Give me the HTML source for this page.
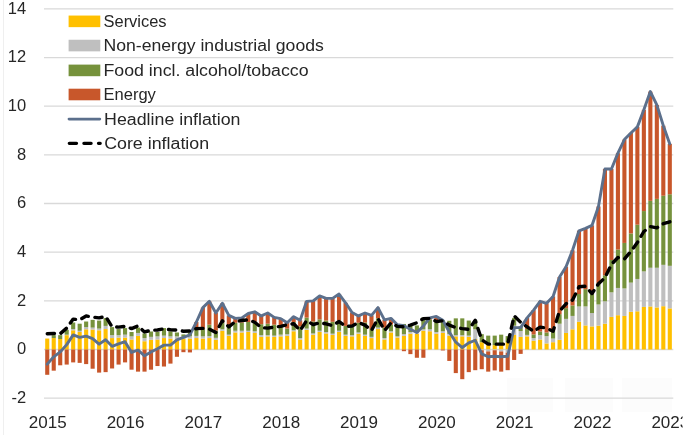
<!DOCTYPE html>
<html lang="en"><head><meta charset="utf-8"><title>Inflation contributions</title>
<style>html,body{margin:0;padding:0;background:#fff}svg{display:block}</style></head>
<body>
<svg width="685" height="445" viewBox="0 0 685 445" font-family="'Liberation Sans', sans-serif" font-size="16" fill="#262626">
<rect width="685" height="445" fill="#fff"/>
<line x1="3.5" y1="0" x2="3.5" y2="435" stroke="#efefef" stroke-width="1"/>
<rect x="507" y="378" width="46" height="34" fill="#fcfcfc"/>
<rect x="565" y="378" width="48" height="34" fill="#fcfcfc"/>
<rect x="622" y="378" width="50" height="34" fill="#fcfcfc"/>
<line x1="44" y1="398.16" x2="673.3" y2="398.16" stroke="#D9D9D9" stroke-width="1.3"/>
<line x1="44" y1="349.50" x2="673.3" y2="349.50" stroke="#D9D9D9" stroke-width="1.3"/>
<line x1="44" y1="300.84" x2="673.3" y2="300.84" stroke="#D9D9D9" stroke-width="1.3"/>
<line x1="44" y1="252.18" x2="673.3" y2="252.18" stroke="#D9D9D9" stroke-width="1.3"/>
<line x1="44" y1="203.52" x2="673.3" y2="203.52" stroke="#D9D9D9" stroke-width="1.3"/>
<line x1="44" y1="154.86" x2="673.3" y2="154.86" stroke="#D9D9D9" stroke-width="1.3"/>
<line x1="44" y1="106.20" x2="673.3" y2="106.20" stroke="#D9D9D9" stroke-width="1.3"/>
<line x1="44" y1="57.54" x2="673.3" y2="57.54" stroke="#D9D9D9" stroke-width="1.3"/>
<line x1="44" y1="8.88" x2="673.3" y2="8.88" stroke="#D9D9D9" stroke-width="1.3"/>
<defs><filter id="soft" x="-2%" y="-2%" width="104%" height="104%"><feGaussianBlur stdDeviation="0.55"/></filter></defs>
<g filter="url(#soft)">
<g><rect x="45.19" y="338.55" width="4.10" height="10.95" fill="#FFC000"/><rect x="45.19" y="349.50" width="4.10" height="25.30" fill="#C8572B"/><rect x="51.68" y="338.06" width="4.10" height="11.44" fill="#FFC000"/><rect x="51.68" y="335.15" width="4.10" height="2.92" fill="#76923C"/><rect x="51.68" y="349.50" width="4.10" height="21.17" fill="#C8572B"/><rect x="58.16" y="339.04" width="4.10" height="10.46" fill="#FFC000"/><rect x="58.16" y="335.15" width="4.10" height="3.89" fill="#76923C"/><rect x="58.16" y="349.50" width="4.10" height="15.81" fill="#C8572B"/><rect x="64.65" y="335.15" width="4.10" height="14.35" fill="#FFC000"/><rect x="64.65" y="334.66" width="4.10" height="0.49" fill="#BFBFBF"/><rect x="64.65" y="329.79" width="4.10" height="4.87" fill="#76923C"/><rect x="64.65" y="349.50" width="4.10" height="15.08" fill="#C8572B"/><rect x="71.13" y="330.28" width="4.10" height="19.22" fill="#FFC000"/><rect x="71.13" y="329.06" width="4.10" height="1.22" fill="#BFBFBF"/><rect x="71.13" y="322.49" width="4.10" height="6.57" fill="#76923C"/><rect x="71.13" y="349.50" width="4.10" height="12.89" fill="#C8572B"/><rect x="77.62" y="331.98" width="4.10" height="17.52" fill="#FFC000"/><rect x="77.62" y="330.77" width="4.10" height="1.22" fill="#BFBFBF"/><rect x="77.62" y="323.71" width="4.10" height="7.06" fill="#76923C"/><rect x="77.62" y="349.50" width="4.10" height="13.38" fill="#C8572B"/><rect x="84.10" y="329.31" width="4.10" height="20.19" fill="#FFC000"/><rect x="84.10" y="327.12" width="4.10" height="2.19" fill="#BFBFBF"/><rect x="84.10" y="321.52" width="4.10" height="5.60" fill="#76923C"/><rect x="84.10" y="349.50" width="4.10" height="14.60" fill="#C8572B"/><rect x="90.59" y="329.55" width="4.10" height="19.95" fill="#FFC000"/><rect x="90.59" y="327.60" width="4.10" height="1.95" fill="#BFBFBF"/><rect x="90.59" y="319.82" width="4.10" height="7.79" fill="#76923C"/><rect x="90.59" y="349.50" width="4.10" height="19.22" fill="#C8572B"/><rect x="97.07" y="330.28" width="4.10" height="19.22" fill="#FFC000"/><rect x="97.07" y="328.58" width="4.10" height="1.70" fill="#BFBFBF"/><rect x="97.07" y="320.55" width="4.10" height="8.03" fill="#76923C"/><rect x="97.07" y="349.50" width="4.10" height="23.11" fill="#C8572B"/><rect x="103.56" y="329.06" width="4.10" height="20.44" fill="#FFC000"/><rect x="103.56" y="325.90" width="4.10" height="3.16" fill="#BFBFBF"/><rect x="103.56" y="318.11" width="4.10" height="7.79" fill="#76923C"/><rect x="103.56" y="349.50" width="4.10" height="22.63" fill="#C8572B"/><rect x="110.04" y="338.06" width="4.10" height="11.44" fill="#FFC000"/><rect x="110.04" y="335.15" width="4.10" height="2.92" fill="#BFBFBF"/><rect x="110.04" y="327.12" width="4.10" height="8.03" fill="#76923C"/><rect x="110.04" y="349.50" width="4.10" height="18.98" fill="#C8572B"/><rect x="116.53" y="337.58" width="4.10" height="11.92" fill="#FFC000"/><rect x="116.53" y="335.15" width="4.10" height="2.43" fill="#BFBFBF"/><rect x="116.53" y="329.06" width="4.10" height="6.08" fill="#76923C"/><rect x="116.53" y="349.50" width="4.10" height="15.08" fill="#C8572B"/><rect x="123.01" y="337.58" width="4.10" height="11.92" fill="#FFC000"/><rect x="123.01" y="334.66" width="4.10" height="2.92" fill="#BFBFBF"/><rect x="123.01" y="328.09" width="4.10" height="6.57" fill="#76923C"/><rect x="123.01" y="349.50" width="4.10" height="12.89" fill="#C8572B"/><rect x="129.50" y="339.52" width="4.10" height="9.98" fill="#FFC000"/><rect x="129.50" y="336.36" width="4.10" height="3.16" fill="#BFBFBF"/><rect x="129.50" y="331.98" width="4.10" height="4.38" fill="#76923C"/><rect x="129.50" y="349.50" width="4.10" height="20.19" fill="#C8572B"/><rect x="135.98" y="335.88" width="4.10" height="13.62" fill="#FFC000"/><rect x="135.98" y="332.96" width="4.10" height="2.92" fill="#BFBFBF"/><rect x="135.98" y="327.60" width="4.10" height="5.35" fill="#76923C"/><rect x="135.98" y="349.50" width="4.10" height="22.14" fill="#C8572B"/><rect x="142.47" y="341.23" width="4.10" height="8.27" fill="#FFC000"/><rect x="142.47" y="338.06" width="4.10" height="3.16" fill="#BFBFBF"/><rect x="142.47" y="333.44" width="4.10" height="4.62" fill="#76923C"/><rect x="142.47" y="349.50" width="4.10" height="22.14" fill="#C8572B"/><rect x="148.95" y="339.77" width="4.10" height="9.73" fill="#FFC000"/><rect x="148.95" y="336.85" width="4.10" height="2.92" fill="#BFBFBF"/><rect x="148.95" y="331.50" width="4.10" height="5.35" fill="#76923C"/><rect x="148.95" y="349.50" width="4.10" height="20.19" fill="#C8572B"/><rect x="155.44" y="339.52" width="4.10" height="9.98" fill="#FFC000"/><rect x="155.44" y="336.36" width="4.10" height="3.16" fill="#BFBFBF"/><rect x="155.44" y="331.98" width="4.10" height="4.38" fill="#76923C"/><rect x="155.44" y="349.50" width="4.10" height="16.54" fill="#C8572B"/><rect x="161.92" y="338.06" width="4.10" height="11.44" fill="#FFC000"/><rect x="161.92" y="335.63" width="4.10" height="2.43" fill="#BFBFBF"/><rect x="161.92" y="328.09" width="4.10" height="7.54" fill="#76923C"/><rect x="161.92" y="349.50" width="4.10" height="17.03" fill="#C8572B"/><rect x="168.41" y="338.55" width="4.10" height="10.95" fill="#FFC000"/><rect x="168.41" y="336.36" width="4.10" height="2.19" fill="#BFBFBF"/><rect x="168.41" y="331.50" width="4.10" height="4.87" fill="#76923C"/><rect x="168.41" y="349.50" width="4.10" height="14.11" fill="#C8572B"/><rect x="174.89" y="339.04" width="4.10" height="10.46" fill="#FFC000"/><rect x="174.89" y="336.36" width="4.10" height="2.68" fill="#BFBFBF"/><rect x="174.89" y="332.47" width="4.10" height="3.89" fill="#76923C"/><rect x="174.89" y="349.50" width="4.10" height="7.30" fill="#C8572B"/><rect x="181.38" y="339.04" width="4.10" height="10.46" fill="#FFC000"/><rect x="181.38" y="336.61" width="4.10" height="2.43" fill="#BFBFBF"/><rect x="181.38" y="334.42" width="4.10" height="2.19" fill="#76923C"/><rect x="181.38" y="349.50" width="4.10" height="2.68" fill="#C8572B"/><rect x="187.86" y="338.55" width="4.10" height="10.95" fill="#FFC000"/><rect x="187.86" y="336.36" width="4.10" height="2.19" fill="#BFBFBF"/><rect x="187.86" y="332.47" width="4.10" height="3.89" fill="#76923C"/><rect x="187.86" y="349.50" width="4.10" height="2.92" fill="#C8572B"/><rect x="194.34" y="338.06" width="4.10" height="11.44" fill="#FFC000"/><rect x="194.34" y="335.88" width="4.10" height="2.19" fill="#BFBFBF"/><rect x="194.34" y="329.31" width="4.10" height="6.57" fill="#76923C"/><rect x="194.34" y="322.01" width="4.10" height="7.30" fill="#C8572B"/><rect x="200.83" y="338.55" width="4.10" height="10.95" fill="#FFC000"/><rect x="200.83" y="336.36" width="4.10" height="2.19" fill="#BFBFBF"/><rect x="200.83" y="328.58" width="4.10" height="7.79" fill="#76923C"/><rect x="200.83" y="307.65" width="4.10" height="20.92" fill="#C8572B"/><rect x="207.31" y="338.06" width="4.10" height="11.44" fill="#FFC000"/><rect x="207.31" y="336.12" width="4.10" height="1.95" fill="#BFBFBF"/><rect x="207.31" y="324.68" width="4.10" height="11.44" fill="#76923C"/><rect x="207.31" y="301.33" width="4.10" height="23.36" fill="#C8572B"/><rect x="213.80" y="339.77" width="4.10" height="9.73" fill="#FFC000"/><rect x="213.80" y="337.82" width="4.10" height="1.95" fill="#BFBFBF"/><rect x="213.80" y="330.52" width="4.10" height="7.30" fill="#76923C"/><rect x="213.80" y="313.00" width="4.10" height="17.52" fill="#C8572B"/><rect x="220.28" y="330.77" width="4.10" height="18.73" fill="#FFC000"/><rect x="220.28" y="329.31" width="4.10" height="1.46" fill="#BFBFBF"/><rect x="220.28" y="322.49" width="4.10" height="6.81" fill="#76923C"/><rect x="220.28" y="303.27" width="4.10" height="19.22" fill="#C8572B"/><rect x="226.77" y="335.88" width="4.10" height="13.62" fill="#FFC000"/><rect x="226.77" y="334.66" width="4.10" height="1.22" fill="#BFBFBF"/><rect x="226.77" y="325.90" width="4.10" height="8.76" fill="#76923C"/><rect x="226.77" y="315.44" width="4.10" height="10.46" fill="#C8572B"/><rect x="233.25" y="332.47" width="4.10" height="17.03" fill="#FFC000"/><rect x="233.25" y="330.77" width="4.10" height="1.70" fill="#BFBFBF"/><rect x="233.25" y="322.74" width="4.10" height="8.03" fill="#76923C"/><rect x="233.25" y="318.36" width="4.10" height="4.38" fill="#C8572B"/><rect x="239.74" y="332.47" width="4.10" height="17.03" fill="#FFC000"/><rect x="239.74" y="330.77" width="4.10" height="1.70" fill="#BFBFBF"/><rect x="239.74" y="322.49" width="4.10" height="8.27" fill="#76923C"/><rect x="239.74" y="317.87" width="4.10" height="4.62" fill="#C8572B"/><rect x="246.22" y="331.98" width="4.10" height="17.52" fill="#FFC000"/><rect x="246.22" y="330.77" width="4.10" height="1.22" fill="#BFBFBF"/><rect x="246.22" y="322.01" width="4.10" height="8.76" fill="#76923C"/><rect x="246.22" y="313.49" width="4.10" height="8.52" fill="#C8572B"/><rect x="252.71" y="332.96" width="4.10" height="16.54" fill="#FFC000"/><rect x="252.71" y="331.25" width="4.10" height="1.70" fill="#BFBFBF"/><rect x="252.71" y="321.52" width="4.10" height="9.73" fill="#76923C"/><rect x="252.71" y="311.79" width="4.10" height="9.73" fill="#C8572B"/><rect x="259.19" y="336.85" width="4.10" height="12.65" fill="#FFC000"/><rect x="259.19" y="335.15" width="4.10" height="1.70" fill="#BFBFBF"/><rect x="259.19" y="324.20" width="4.10" height="10.95" fill="#76923C"/><rect x="259.19" y="315.92" width="4.10" height="8.27" fill="#C8572B"/><rect x="265.68" y="336.36" width="4.10" height="13.14" fill="#FFC000"/><rect x="265.68" y="335.15" width="4.10" height="1.22" fill="#BFBFBF"/><rect x="265.68" y="323.71" width="4.10" height="11.44" fill="#76923C"/><rect x="265.68" y="313.00" width="4.10" height="10.71" fill="#C8572B"/><rect x="272.17" y="336.85" width="4.10" height="12.65" fill="#FFC000"/><rect x="272.17" y="335.63" width="4.10" height="1.22" fill="#BFBFBF"/><rect x="272.17" y="324.68" width="4.10" height="10.95" fill="#76923C"/><rect x="272.17" y="317.38" width="4.10" height="7.30" fill="#C8572B"/><rect x="278.65" y="336.36" width="4.10" height="13.14" fill="#FFC000"/><rect x="278.65" y="334.66" width="4.10" height="1.70" fill="#BFBFBF"/><rect x="278.65" y="326.39" width="4.10" height="8.27" fill="#76923C"/><rect x="278.65" y="318.60" width="4.10" height="7.79" fill="#C8572B"/><rect x="285.13" y="335.88" width="4.10" height="13.62" fill="#FFC000"/><rect x="285.13" y="334.17" width="4.10" height="1.70" fill="#BFBFBF"/><rect x="285.13" y="328.58" width="4.10" height="5.60" fill="#76923C"/><rect x="285.13" y="322.74" width="4.10" height="5.84" fill="#C8572B"/><rect x="291.62" y="331.25" width="4.10" height="18.25" fill="#FFC000"/><rect x="291.62" y="330.28" width="4.10" height="0.97" fill="#BFBFBF"/><rect x="291.62" y="322.01" width="4.10" height="8.27" fill="#76923C"/><rect x="291.62" y="316.65" width="4.10" height="5.35" fill="#C8572B"/><rect x="298.11" y="339.52" width="4.10" height="9.98" fill="#FFC000"/><rect x="298.11" y="338.06" width="4.10" height="1.46" fill="#BFBFBF"/><rect x="298.11" y="326.39" width="4.10" height="11.68" fill="#76923C"/><rect x="298.11" y="320.30" width="4.10" height="6.08" fill="#C8572B"/><rect x="304.59" y="329.79" width="4.10" height="19.71" fill="#FFC000"/><rect x="304.59" y="328.58" width="4.10" height="1.22" fill="#BFBFBF"/><rect x="304.59" y="317.63" width="4.10" height="10.95" fill="#76923C"/><rect x="304.59" y="301.33" width="4.10" height="16.30" fill="#C8572B"/><rect x="311.07" y="334.66" width="4.10" height="14.84" fill="#FFC000"/><rect x="311.07" y="333.44" width="4.10" height="1.22" fill="#BFBFBF"/><rect x="311.07" y="321.52" width="4.10" height="11.92" fill="#76923C"/><rect x="311.07" y="300.84" width="4.10" height="20.68" fill="#C8572B"/><rect x="317.56" y="331.98" width="4.10" height="17.52" fill="#FFC000"/><rect x="317.56" y="330.77" width="4.10" height="1.22" fill="#BFBFBF"/><rect x="317.56" y="319.33" width="4.10" height="11.44" fill="#76923C"/><rect x="317.56" y="295.97" width="4.10" height="23.36" fill="#C8572B"/><rect x="324.05" y="333.44" width="4.10" height="16.06" fill="#FFC000"/><rect x="324.05" y="331.98" width="4.10" height="1.46" fill="#BFBFBF"/><rect x="324.05" y="320.55" width="4.10" height="11.44" fill="#76923C"/><rect x="324.05" y="298.41" width="4.10" height="22.14" fill="#C8572B"/><rect x="330.53" y="334.90" width="4.10" height="14.60" fill="#FFC000"/><rect x="330.53" y="333.69" width="4.10" height="1.22" fill="#BFBFBF"/><rect x="330.53" y="321.76" width="4.10" height="11.92" fill="#76923C"/><rect x="330.53" y="298.41" width="4.10" height="23.36" fill="#C8572B"/><rect x="337.01" y="331.98" width="4.10" height="17.52" fill="#FFC000"/><rect x="337.01" y="330.77" width="4.10" height="1.22" fill="#BFBFBF"/><rect x="337.01" y="320.30" width="4.10" height="10.46" fill="#76923C"/><rect x="337.01" y="294.03" width="4.10" height="26.28" fill="#C8572B"/><rect x="343.50" y="335.88" width="4.10" height="13.62" fill="#FFC000"/><rect x="343.50" y="334.66" width="4.10" height="1.22" fill="#BFBFBF"/><rect x="343.50" y="325.90" width="4.10" height="8.76" fill="#76923C"/><rect x="343.50" y="302.79" width="4.10" height="23.11" fill="#C8572B"/><rect x="349.99" y="336.36" width="4.10" height="13.14" fill="#FFC000"/><rect x="349.99" y="335.15" width="4.10" height="1.22" fill="#BFBFBF"/><rect x="349.99" y="326.39" width="4.10" height="8.76" fill="#76923C"/><rect x="349.99" y="312.52" width="4.10" height="13.87" fill="#C8572B"/><rect x="356.47" y="333.69" width="4.10" height="15.81" fill="#FFC000"/><rect x="356.47" y="332.47" width="4.10" height="1.22" fill="#BFBFBF"/><rect x="356.47" y="322.74" width="4.10" height="9.73" fill="#76923C"/><rect x="356.47" y="315.92" width="4.10" height="6.81" fill="#C8572B"/><rect x="362.96" y="335.88" width="4.10" height="13.62" fill="#FFC000"/><rect x="362.96" y="334.66" width="4.10" height="1.22" fill="#BFBFBF"/><rect x="362.96" y="322.49" width="4.10" height="12.17" fill="#76923C"/><rect x="362.96" y="313.00" width="4.10" height="9.49" fill="#C8572B"/><rect x="369.44" y="338.06" width="4.10" height="11.44" fill="#FFC000"/><rect x="369.44" y="336.85" width="4.10" height="1.22" fill="#BFBFBF"/><rect x="369.44" y="329.06" width="4.10" height="7.79" fill="#76923C"/><rect x="369.44" y="315.44" width="4.10" height="13.62" fill="#C8572B"/><rect x="375.93" y="329.06" width="4.10" height="20.44" fill="#FFC000"/><rect x="375.93" y="327.60" width="4.10" height="1.46" fill="#BFBFBF"/><rect x="375.93" y="318.36" width="4.10" height="9.25" fill="#76923C"/><rect x="375.93" y="307.65" width="4.10" height="10.71" fill="#C8572B"/><rect x="382.41" y="339.52" width="4.10" height="9.98" fill="#FFC000"/><rect x="382.41" y="338.06" width="4.10" height="1.46" fill="#BFBFBF"/><rect x="382.41" y="327.60" width="4.10" height="10.46" fill="#76923C"/><rect x="382.41" y="319.82" width="4.10" height="7.79" fill="#C8572B"/><rect x="388.90" y="332.47" width="4.10" height="17.03" fill="#FFC000"/><rect x="388.90" y="331.25" width="4.10" height="1.22" fill="#BFBFBF"/><rect x="388.90" y="324.44" width="4.10" height="6.81" fill="#76923C"/><rect x="388.90" y="318.36" width="4.10" height="6.08" fill="#C8572B"/><rect x="395.38" y="337.58" width="4.10" height="11.92" fill="#FFC000"/><rect x="395.38" y="336.36" width="4.10" height="1.22" fill="#BFBFBF"/><rect x="395.38" y="325.90" width="4.10" height="10.46" fill="#76923C"/><rect x="395.38" y="324.68" width="4.10" height="1.22" fill="#C8572B"/><rect x="401.87" y="335.88" width="4.10" height="13.62" fill="#FFC000"/><rect x="401.87" y="334.17" width="4.10" height="1.70" fill="#BFBFBF"/><rect x="401.87" y="323.95" width="4.10" height="10.22" fill="#76923C"/><rect x="401.87" y="349.50" width="4.10" height="1.70" fill="#C8572B"/><rect x="408.35" y="333.69" width="4.10" height="15.81" fill="#FFC000"/><rect x="408.35" y="331.98" width="4.10" height="1.70" fill="#BFBFBF"/><rect x="408.35" y="324.68" width="4.10" height="7.30" fill="#76923C"/><rect x="408.35" y="349.50" width="4.10" height="4.62" fill="#C8572B"/><rect x="414.84" y="333.69" width="4.10" height="15.81" fill="#FFC000"/><rect x="414.84" y="331.98" width="4.10" height="1.70" fill="#BFBFBF"/><rect x="414.84" y="325.41" width="4.10" height="6.57" fill="#76923C"/><rect x="414.84" y="349.50" width="4.10" height="8.27" fill="#C8572B"/><rect x="421.32" y="330.77" width="4.10" height="18.73" fill="#FFC000"/><rect x="421.32" y="329.31" width="4.10" height="1.46" fill="#BFBFBF"/><rect x="421.32" y="317.63" width="4.10" height="11.68" fill="#76923C"/><rect x="421.32" y="349.50" width="4.10" height="8.27" fill="#C8572B"/><rect x="427.81" y="331.25" width="4.10" height="18.25" fill="#FFC000"/><rect x="427.81" y="329.31" width="4.10" height="1.95" fill="#BFBFBF"/><rect x="427.81" y="319.33" width="4.10" height="9.98" fill="#76923C"/><rect x="427.81" y="317.87" width="4.10" height="1.46" fill="#C8572B"/><rect x="434.29" y="333.69" width="4.10" height="15.81" fill="#FFC000"/><rect x="434.29" y="331.98" width="4.10" height="1.70" fill="#BFBFBF"/><rect x="434.29" y="322.01" width="4.10" height="9.98" fill="#76923C"/><rect x="434.29" y="316.41" width="4.10" height="5.60" fill="#C8572B"/><rect x="440.78" y="332.96" width="4.10" height="16.54" fill="#FFC000"/><rect x="440.78" y="331.25" width="4.10" height="1.70" fill="#BFBFBF"/><rect x="440.78" y="320.30" width="4.10" height="10.95" fill="#76923C"/><rect x="440.78" y="349.50" width="4.10" height="0.97" fill="#C8572B"/><rect x="447.26" y="335.63" width="4.10" height="13.87" fill="#FFC000"/><rect x="447.26" y="333.93" width="4.10" height="1.70" fill="#BFBFBF"/><rect x="447.26" y="320.79" width="4.10" height="13.14" fill="#76923C"/><rect x="447.26" y="349.50" width="4.10" height="11.44" fill="#C8572B"/><rect x="453.75" y="336.36" width="4.10" height="13.14" fill="#FFC000"/><rect x="453.75" y="335.15" width="4.10" height="1.22" fill="#BFBFBF"/><rect x="453.75" y="318.36" width="4.10" height="16.79" fill="#76923C"/><rect x="453.75" y="349.50" width="4.10" height="23.60" fill="#C8572B"/><rect x="460.23" y="336.36" width="4.10" height="13.14" fill="#FFC000"/><rect x="460.23" y="335.15" width="4.10" height="1.22" fill="#BFBFBF"/><rect x="460.23" y="318.36" width="4.10" height="16.79" fill="#76923C"/><rect x="460.23" y="349.50" width="4.10" height="29.68" fill="#C8572B"/><rect x="466.72" y="336.85" width="4.10" height="12.65" fill="#FFC000"/><rect x="466.72" y="335.63" width="4.10" height="1.22" fill="#BFBFBF"/><rect x="466.72" y="320.55" width="4.10" height="15.08" fill="#76923C"/><rect x="466.72" y="349.50" width="4.10" height="22.63" fill="#C8572B"/><rect x="473.20" y="339.04" width="4.10" height="10.46" fill="#FFC000"/><rect x="473.20" y="329.31" width="4.10" height="9.73" fill="#BFBFBF"/><rect x="473.20" y="320.30" width="4.10" height="9.00" fill="#76923C"/><rect x="473.20" y="349.50" width="4.10" height="20.68" fill="#C8572B"/><rect x="479.69" y="342.20" width="4.10" height="7.30" fill="#FFC000"/><rect x="479.69" y="334.17" width="4.10" height="8.03" fill="#76923C"/><rect x="479.69" y="349.50" width="4.10" height="0.73" fill="#BFBFBF"/><rect x="479.69" y="350.23" width="4.10" height="18.98" fill="#C8572B"/><rect x="486.17" y="344.15" width="4.10" height="5.35" fill="#FFC000"/><rect x="486.17" y="335.63" width="4.10" height="8.52" fill="#76923C"/><rect x="486.17" y="349.50" width="4.10" height="1.95" fill="#BFBFBF"/><rect x="486.17" y="351.45" width="4.10" height="20.19" fill="#C8572B"/><rect x="492.66" y="345.12" width="4.10" height="4.38" fill="#FFC000"/><rect x="492.66" y="335.63" width="4.10" height="9.49" fill="#76923C"/><rect x="492.66" y="349.50" width="4.10" height="0.73" fill="#BFBFBF"/><rect x="492.66" y="350.23" width="4.10" height="20.19" fill="#C8572B"/><rect x="499.14" y="343.17" width="4.10" height="6.33" fill="#FFC000"/><rect x="499.14" y="334.66" width="4.10" height="8.52" fill="#76923C"/><rect x="499.14" y="349.50" width="4.10" height="1.95" fill="#BFBFBF"/><rect x="499.14" y="351.45" width="4.10" height="20.19" fill="#C8572B"/><rect x="505.62" y="342.20" width="4.10" height="7.30" fill="#FFC000"/><rect x="505.62" y="336.12" width="4.10" height="6.08" fill="#76923C"/><rect x="505.62" y="349.50" width="4.10" height="3.16" fill="#BFBFBF"/><rect x="505.62" y="352.66" width="4.10" height="17.52" fill="#C8572B"/><rect x="512.11" y="334.90" width="4.10" height="14.60" fill="#FFC000"/><rect x="512.11" y="325.66" width="4.10" height="9.25" fill="#BFBFBF"/><rect x="512.11" y="317.87" width="4.10" height="7.79" fill="#76923C"/><rect x="512.11" y="349.50" width="4.10" height="10.46" fill="#C8572B"/><rect x="518.60" y="336.85" width="4.10" height="12.65" fill="#FFC000"/><rect x="518.60" y="331.01" width="4.10" height="5.84" fill="#BFBFBF"/><rect x="518.60" y="326.39" width="4.10" height="4.62" fill="#76923C"/><rect x="518.60" y="349.50" width="4.10" height="4.38" fill="#C8572B"/><rect x="525.08" y="336.36" width="4.10" height="13.14" fill="#FFC000"/><rect x="525.08" y="334.90" width="4.10" height="1.46" fill="#BFBFBF"/><rect x="525.08" y="329.06" width="4.10" height="5.84" fill="#76923C"/><rect x="525.08" y="317.87" width="4.10" height="11.19" fill="#C8572B"/><rect x="531.57" y="340.74" width="4.10" height="8.76" fill="#FFC000"/><rect x="531.57" y="338.06" width="4.10" height="2.68" fill="#BFBFBF"/><rect x="531.57" y="334.42" width="4.10" height="3.65" fill="#76923C"/><rect x="531.57" y="310.09" width="4.10" height="24.33" fill="#C8572B"/><rect x="538.05" y="339.52" width="4.10" height="9.98" fill="#FFC000"/><rect x="538.05" y="335.15" width="4.10" height="4.38" fill="#BFBFBF"/><rect x="538.05" y="331.50" width="4.10" height="3.65" fill="#76923C"/><rect x="538.05" y="301.33" width="4.10" height="30.17" fill="#C8572B"/><rect x="544.54" y="343.42" width="4.10" height="6.08" fill="#FFC000"/><rect x="544.54" y="336.12" width="4.10" height="7.30" fill="#BFBFBF"/><rect x="544.54" y="332.47" width="4.10" height="3.65" fill="#76923C"/><rect x="544.54" y="303.27" width="4.10" height="29.20" fill="#C8572B"/><rect x="551.02" y="342.20" width="4.10" height="7.30" fill="#FFC000"/><rect x="551.02" y="338.55" width="4.10" height="3.65" fill="#BFBFBF"/><rect x="551.02" y="331.01" width="4.10" height="7.54" fill="#76923C"/><rect x="551.02" y="296.46" width="4.10" height="34.55" fill="#C8572B"/><rect x="557.51" y="339.77" width="4.10" height="9.73" fill="#FFC000"/><rect x="557.51" y="323.71" width="4.10" height="16.06" fill="#BFBFBF"/><rect x="557.51" y="314.22" width="4.10" height="9.49" fill="#76923C"/><rect x="557.51" y="277.00" width="4.10" height="37.22" fill="#C8572B"/><rect x="563.99" y="332.96" width="4.10" height="16.54" fill="#FFC000"/><rect x="563.99" y="318.84" width="4.10" height="14.11" fill="#BFBFBF"/><rect x="563.99" y="308.14" width="4.10" height="10.71" fill="#76923C"/><rect x="563.99" y="266.78" width="4.10" height="41.36" fill="#C8572B"/><rect x="570.48" y="329.31" width="4.10" height="20.19" fill="#FFC000"/><rect x="570.48" y="315.92" width="4.10" height="13.38" fill="#BFBFBF"/><rect x="570.48" y="305.46" width="4.10" height="10.46" fill="#76923C"/><rect x="570.48" y="250.23" width="4.10" height="55.23" fill="#C8572B"/><rect x="576.96" y="321.76" width="4.10" height="27.74" fill="#FFC000"/><rect x="576.96" y="306.44" width="4.10" height="15.33" fill="#BFBFBF"/><rect x="576.96" y="294.03" width="4.10" height="12.41" fill="#76923C"/><rect x="576.96" y="230.77" width="4.10" height="63.26" fill="#C8572B"/><rect x="583.45" y="325.41" width="4.10" height="24.09" fill="#FFC000"/><rect x="583.45" y="306.44" width="4.10" height="18.98" fill="#BFBFBF"/><rect x="583.45" y="289.16" width="4.10" height="17.27" fill="#76923C"/><rect x="583.45" y="228.34" width="4.10" height="60.83" fill="#C8572B"/><rect x="589.93" y="326.39" width="4.10" height="23.11" fill="#FFC000"/><rect x="589.93" y="313.00" width="4.10" height="13.38" fill="#BFBFBF"/><rect x="589.93" y="294.03" width="4.10" height="18.98" fill="#76923C"/><rect x="589.93" y="225.42" width="4.10" height="68.61" fill="#C8572B"/><rect x="596.42" y="325.66" width="4.10" height="23.84" fill="#FFC000"/><rect x="596.42" y="304.49" width="4.10" height="21.17" fill="#BFBFBF"/><rect x="596.42" y="283.32" width="4.10" height="21.17" fill="#76923C"/><rect x="596.42" y="206.44" width="4.10" height="76.88" fill="#C8572B"/><rect x="602.90" y="323.71" width="4.10" height="25.79" fill="#FFC000"/><rect x="602.90" y="301.33" width="4.10" height="22.38" fill="#BFBFBF"/><rect x="602.90" y="275.29" width="4.10" height="26.03" fill="#76923C"/><rect x="602.90" y="168.97" width="4.10" height="106.32" fill="#C8572B"/><rect x="609.39" y="316.90" width="4.10" height="32.60" fill="#FFC000"/><rect x="609.39" y="292.32" width="4.10" height="24.57" fill="#BFBFBF"/><rect x="609.39" y="259.97" width="4.10" height="32.36" fill="#76923C"/><rect x="609.39" y="168.97" width="4.10" height="90.99" fill="#C8572B"/><rect x="615.87" y="315.19" width="4.10" height="34.31" fill="#FFC000"/><rect x="615.87" y="287.95" width="4.10" height="27.25" fill="#BFBFBF"/><rect x="615.87" y="249.50" width="4.10" height="38.44" fill="#76923C"/><rect x="615.87" y="153.16" width="4.10" height="96.35" fill="#C8572B"/><rect x="622.36" y="315.92" width="4.10" height="33.58" fill="#FFC000"/><rect x="622.36" y="288.43" width="4.10" height="27.49" fill="#BFBFBF"/><rect x="622.36" y="242.93" width="4.10" height="45.50" fill="#76923C"/><rect x="622.36" y="139.53" width="4.10" height="103.40" fill="#C8572B"/><rect x="628.84" y="311.79" width="4.10" height="37.71" fill="#FFC000"/><rect x="628.84" y="282.59" width="4.10" height="29.20" fill="#BFBFBF"/><rect x="628.84" y="233.45" width="4.10" height="49.15" fill="#76923C"/><rect x="628.84" y="132.96" width="4.10" height="100.48" fill="#C8572B"/><rect x="635.33" y="311.30" width="4.10" height="38.20" fill="#FFC000"/><rect x="635.33" y="278.94" width="4.10" height="32.36" fill="#BFBFBF"/><rect x="635.33" y="224.69" width="4.10" height="54.26" fill="#76923C"/><rect x="635.33" y="126.88" width="4.10" height="97.81" fill="#C8572B"/><rect x="641.81" y="306.92" width="4.10" height="42.58" fill="#FFC000"/><rect x="641.81" y="271.40" width="4.10" height="35.52" fill="#BFBFBF"/><rect x="641.81" y="211.06" width="4.10" height="60.34" fill="#76923C"/><rect x="641.81" y="109.85" width="4.10" height="101.21" fill="#C8572B"/><rect x="648.30" y="306.44" width="4.10" height="43.06" fill="#FFC000"/><rect x="648.30" y="267.75" width="4.10" height="38.68" fill="#BFBFBF"/><rect x="648.30" y="200.84" width="4.10" height="66.91" fill="#76923C"/><rect x="648.30" y="91.60" width="4.10" height="109.24" fill="#C8572B"/><rect x="654.78" y="307.41" width="4.10" height="42.09" fill="#FFC000"/><rect x="654.78" y="267.75" width="4.10" height="39.66" fill="#BFBFBF"/><rect x="654.78" y="198.90" width="4.10" height="68.85" fill="#76923C"/><rect x="654.78" y="104.98" width="4.10" height="93.91" fill="#C8572B"/><rect x="661.27" y="306.19" width="4.10" height="43.31" fill="#FFC000"/><rect x="661.27" y="264.83" width="4.10" height="41.36" fill="#BFBFBF"/><rect x="661.27" y="195.73" width="4.10" height="69.10" fill="#76923C"/><rect x="661.27" y="125.66" width="4.10" height="70.07" fill="#C8572B"/><rect x="667.75" y="308.38" width="4.10" height="41.12" fill="#FFC000"/><rect x="667.75" y="265.80" width="4.10" height="42.58" fill="#BFBFBF"/><rect x="667.75" y="194.27" width="4.10" height="71.53" fill="#76923C"/><rect x="667.75" y="143.91" width="4.10" height="50.36" fill="#C8572B"/></g>
<polyline fill="none" stroke="#5B6F8C" stroke-width="2.9" stroke-linejoin="round" stroke-linecap="round" points="47.24,364.10 53.73,356.80 60.21,351.93 66.70,344.63 73.18,334.90 79.67,337.33 86.15,336.12 92.64,338.55 99.12,344.15 105.61,339.77 112.09,346.34 118.58,343.90 125.06,341.71 131.55,352.42 138.03,349.99 144.52,355.83 151.00,351.93 157.49,348.77 163.97,345.12 170.46,345.12 176.94,339.77 183.43,337.33 189.91,334.90 196.40,322.01 202.88,307.65 209.37,301.33 215.85,313.00 222.34,303.27 228.82,315.44 235.31,318.36 241.79,317.87 248.28,313.49 254.76,311.79 261.25,315.92 267.73,313.00 274.22,317.38 280.70,318.60 287.19,322.74 293.67,316.65 300.16,320.30 306.64,301.33 313.12,300.84 319.61,295.97 326.10,298.41 332.58,298.41 339.06,294.03 345.55,302.79 352.04,312.52 358.52,315.92 365.01,313.00 371.49,315.44 377.98,307.65 384.46,319.82 390.95,318.36 397.43,324.68 403.92,325.66 410.40,329.31 416.89,332.47 423.37,325.90 429.86,317.87 436.34,316.41 442.83,320.30 449.31,331.98 455.80,342.20 462.28,347.55 468.77,342.93 475.25,340.25 481.74,353.88 488.22,356.80 494.71,356.31 501.19,356.80 507.68,356.31 514.16,327.60 520.64,327.60 527.13,317.87 533.62,310.09 540.10,301.33 546.59,303.27 553.07,296.46 559.56,277.00 566.04,266.78 572.53,250.23 579.01,230.77 585.50,228.34 591.98,225.42 598.47,206.44 604.95,168.97 611.44,168.97 617.92,153.16 624.41,139.53 630.89,132.96 637.38,126.88 643.86,109.85 650.35,91.60 656.83,104.98 663.32,125.66 669.80,143.91"/>
<polyline fill="none" stroke="#000" stroke-width="3.4" stroke-linejoin="round" stroke-linecap="round" stroke-dasharray="7.2 6.7" points="47.24,333.69 53.73,333.44 60.21,333.69 66.70,328.09 73.18,319.09 79.67,319.82 86.15,315.92 92.64,317.14 99.12,317.87 105.61,316.41 112.09,326.87 118.58,327.12 125.06,326.39 131.55,328.58 138.03,325.90 144.52,331.98 151.00,330.28 157.49,330.04 163.97,328.82 170.46,329.79 176.94,330.04 183.43,331.25 189.91,331.01 196.40,328.58 202.88,328.33 209.37,329.06 215.85,332.47 222.34,320.79 228.82,326.87 235.31,321.52 241.79,320.55 248.28,319.82 254.76,322.25 261.25,327.60 267.73,328.09 274.22,327.12 280.70,326.39 287.19,324.68 293.67,323.71 300.16,330.52 306.64,320.55 313.12,324.68 319.61,322.74 326.10,323.95 332.58,325.66 339.06,321.52 345.55,326.39 352.04,326.14 358.52,322.49 365.01,325.17 371.49,330.52 377.98,318.36 384.46,330.52 390.95,322.98 397.43,326.39 403.92,326.87 410.40,325.17 416.89,322.74 423.37,318.60 429.86,318.36 436.34,321.52 442.83,320.79 449.31,325.17 455.80,327.60 462.28,328.58 468.77,329.31 475.25,320.30 481.74,339.77 488.22,344.15 494.71,344.15 501.19,344.15 507.68,344.15 514.16,315.92 520.64,322.25 527.13,326.87 533.62,331.50 540.10,327.12 546.59,328.09 553.07,331.25 559.56,311.06 566.04,303.76 572.53,300.11 579.01,286.73 585.50,286.24 591.98,293.54 598.47,283.81 604.95,277.73 611.44,264.35 617.92,257.53 624.41,258.99 630.89,251.45 637.38,242.45 643.86,231.50 650.35,226.63 656.83,227.85 663.32,223.71 669.80,221.77"/>
</g>
<text x="26.2" y="403.06" text-anchor="end" font-size="16.5">-2</text>
<text x="26.2" y="354.40" text-anchor="end" font-size="16.5">0</text>
<text x="26.2" y="305.74" text-anchor="end" font-size="16.5">2</text>
<text x="26.2" y="257.08" text-anchor="end" font-size="16.5">4</text>
<text x="26.2" y="208.42" text-anchor="end" font-size="16.5">6</text>
<text x="26.2" y="159.76" text-anchor="end" font-size="16.5">8</text>
<text x="26.2" y="111.10" text-anchor="end" font-size="16.5">10</text>
<text x="26.2" y="62.44" text-anchor="end" font-size="16.5">12</text>
<text x="26.2" y="13.78" text-anchor="end" font-size="16.5">14</text>
<text x="47.74" y="428.4" text-anchor="middle" font-size="17">2015</text>
<text x="125.56" y="428.4" text-anchor="middle" font-size="17">2016</text>
<text x="203.38" y="428.4" text-anchor="middle" font-size="17">2017</text>
<text x="281.20" y="428.4" text-anchor="middle" font-size="17">2018</text>
<text x="359.02" y="428.4" text-anchor="middle" font-size="17">2019</text>
<text x="436.84" y="428.4" text-anchor="middle" font-size="17">2020</text>
<text x="514.66" y="428.4" text-anchor="middle" font-size="17">2021</text>
<text x="592.48" y="428.4" text-anchor="middle" font-size="17">2022</text>
<text x="670.30" y="428.4" text-anchor="middle" font-size="17">2023</text>
<rect x="68.6" y="15.55" width="31.7" height="11.6" fill="#FFC000"/>
<text x="103.5" y="27.20" textLength="63.1" lengthAdjust="spacingAndGlyphs">Services</text>
<rect x="68.6" y="39.75" width="31.7" height="11.6" fill="#BFBFBF"/>
<text x="103.5" y="51.40" textLength="220.3" lengthAdjust="spacingAndGlyphs">Non-energy industrial goods</text>
<rect x="68.6" y="64.60" width="31.7" height="11.6" fill="#76923C"/>
<text x="103.5" y="76.00" textLength="205.0" lengthAdjust="spacingAndGlyphs">Food incl. alcohol/tobacco</text>
<rect x="68.6" y="88.70" width="31.7" height="11.6" fill="#C8572B"/>
<text x="103.5" y="99.60" textLength="52.4" lengthAdjust="spacingAndGlyphs">Energy</text>
<line x1="69" y1="119.1" x2="99.8" y2="119.1" stroke="#5B6F8C" stroke-width="2.8" stroke-linecap="round"/>
<text x="104.1" y="124.6" textLength="136.4" lengthAdjust="spacingAndGlyphs">Headline inflation</text>
<line x1="69.3" y1="143.3" x2="100.2" y2="143.3" stroke="#000" stroke-width="3.3" stroke-linecap="round" stroke-dasharray="7.2 7.4"/>
<text x="104.2" y="148.5" textLength="104.9" lengthAdjust="spacingAndGlyphs">Core inflation</text>
<rect x="682.6" y="0" width="2.4" height="445" fill="#fff"/>
</svg>
</body></html>
